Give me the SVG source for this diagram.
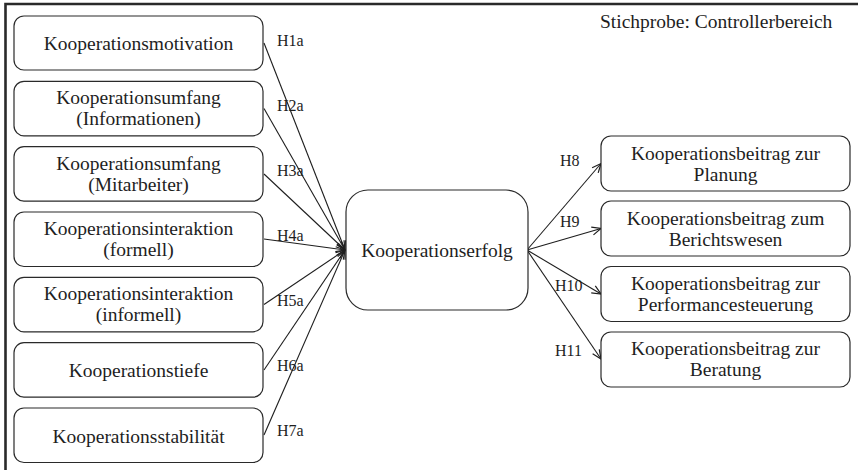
<svg xmlns="http://www.w3.org/2000/svg" width="858" height="470" viewBox="0 0 858 470">
  <style>
    .node { fill: #ffffff; stroke: #2a2a2a; stroke-width: 1.2; }
    .lbl { font-family: "Liberation Serif", "Times New Roman", serif; font-size: 19.5px; fill: #1e1e1e; text-anchor: middle; }
    .hyp { font-family: "Liberation Serif", "Times New Roman", serif; font-size: 16px; fill: #1e1e1e; }
    .cap { font-family: "Liberation Serif", "Times New Roman", serif; font-size: 19.5px; fill: #1e1e1e; }
    .edge { stroke: #1e1e1e; stroke-width: 1.1; fill: none; marker-end: url(#arrow); }
    .frame { stroke: #2a2a2a; stroke-width: 2.6; fill: none; }
  </style>
  <defs>
    <marker id="arrow" markerUnits="userSpaceOnUse" markerWidth="12" markerHeight="12" refX="10" refY="5" orient="auto">
      <path d="M1,1 L10,5 L1,9" fill="none" stroke="#1e1e1e" stroke-width="1.2"/>
    </marker>
  </defs>

  <rect width="858" height="470" fill="#ffffff"/>

  <!-- frame: top and left rules -->
  <path class="frame" d="M5.5,470 L5.5,4 L858,4"/>

  <text class="cap" x="600" y="28">Stichprobe: Controllerbereich</text>

  <!-- connectors -->
  <g id="connectors">
    <line class="edge" x1="264" y1="43" x2="345" y2="250"/>
    <line class="edge" x1="264" y1="108.5" x2="345" y2="250"/>
    <line class="edge" x1="264" y1="174" x2="345" y2="250"/>
    <line class="edge" x1="264" y1="239" x2="345" y2="250"/>
    <line class="edge" x1="264" y1="304.5" x2="345" y2="250"/>
    <line class="edge" x1="264" y1="370" x2="345" y2="250"/>
    <line class="edge" x1="264" y1="435" x2="345" y2="250"/>
    <line class="edge" x1="527" y1="250" x2="601" y2="163.5"/>
    <line class="edge" x1="527" y1="250" x2="601" y2="228.5"/>
    <line class="edge" x1="527" y1="250" x2="601" y2="294"/>
    <line class="edge" x1="527" y1="250" x2="601" y2="359"/>
    <text class="hyp" x="277" y="46">H1a</text>
    <text class="hyp" x="277" y="111">H2a</text>
    <text class="hyp" x="277" y="176">H3a</text>
    <text class="hyp" x="277" y="241">H4a</text>
    <text class="hyp" x="277" y="306">H5a</text>
    <text class="hyp" x="277" y="371">H6a</text>
    <text class="hyp" x="277" y="436">H7a</text>
    <text class="hyp" x="560" y="166">H8</text>
    <text class="hyp" x="560" y="227">H9</text>
    <text class="hyp" x="555" y="291">H10</text>
    <text class="hyp" x="555" y="356">H11</text>
  </g>

  <!-- antecedents -->
  <g id="motivation">
    <rect class="node" x="14" y="16" width="249" height="54" rx="10"/>
    <text class="lbl" x="138.5" y="50">Kooperationsmotivation</text>
  </g>
  <g id="umfang-info">
    <rect class="node" x="14" y="81.3" width="249" height="54.5" rx="10"/>
    <text class="lbl" x="138.5" y="104"><tspan x="138.5">Kooperationsumfang</tspan><tspan x="138.5" dy="21">(Informationen)</tspan></text>
  </g>
  <g id="umfang-mitarbeiter">
    <rect class="node" x="14" y="146.7" width="249" height="54.5" rx="10"/>
    <text class="lbl" x="138.5" y="169.5"><tspan x="138.5">Kooperationsumfang</tspan><tspan x="138.5" dy="21">(Mitarbeiter)</tspan></text>
  </g>
  <g id="interaktion-formell">
    <rect class="node" x="14" y="212" width="249" height="54.5" rx="10"/>
    <text class="lbl" x="138.5" y="235"><tspan x="138.5">Kooperationsinteraktion</tspan><tspan x="138.5" dy="21">(formell)</tspan></text>
  </g>
  <g id="interaktion-informell">
    <rect class="node" x="14" y="277.3" width="249" height="54.5" rx="10"/>
    <text class="lbl" x="138.5" y="300"><tspan x="138.5">Kooperationsinteraktion</tspan><tspan x="138.5" dy="21">(informell)</tspan></text>
  </g>
  <g id="tiefe">
    <rect class="node" x="14" y="342.7" width="249" height="54.5" rx="10"/>
    <text class="lbl" x="138.5" y="377">Kooperationstiefe</text>
  </g>
  <g id="stabilitaet">
    <rect class="node" x="14" y="408" width="249" height="54.5" rx="10"/>
    <text class="lbl" x="138.5" y="442.5">Kooperationsstabilität</text>
  </g>

  <!-- central construct -->
  <g id="erfolg">
    <rect class="node" x="346" y="190" width="182" height="120" rx="22"/>
    <text class="lbl" x="437" y="257">Kooperationserfolg</text>
  </g>

  <!-- outcomes -->
  <g id="beitrag-planung">
    <rect class="node" x="601" y="136" width="249" height="55" rx="10"/>
    <text class="lbl" x="725.5" y="159.5"><tspan x="725.5">Kooperationsbeitrag zur</tspan><tspan x="725.5" dy="21">Planung</tspan></text>
  </g>
  <g id="beitrag-bericht">
    <rect class="node" x="601" y="201" width="249" height="55" rx="10"/>
    <text class="lbl" x="725.5" y="224.5"><tspan x="725.5">Kooperationsbeitrag zum</tspan><tspan x="725.5" dy="21">Berichtswesen</tspan></text>
  </g>
  <g id="beitrag-performance">
    <rect class="node" x="601" y="266.5" width="249" height="55" rx="10"/>
    <text class="lbl" x="725.5" y="290"><tspan x="725.5">Kooperationsbeitrag zur</tspan><tspan x="725.5" dy="21">Performancesteuerung</tspan></text>
  </g>
  <g id="beitrag-beratung">
    <rect class="node" x="601" y="332" width="249" height="55" rx="10"/>
    <text class="lbl" x="725.5" y="355"><tspan x="725.5">Kooperationsbeitrag zur</tspan><tspan x="725.5" dy="21">Beratung</tspan></text>
  </g>
</svg>
